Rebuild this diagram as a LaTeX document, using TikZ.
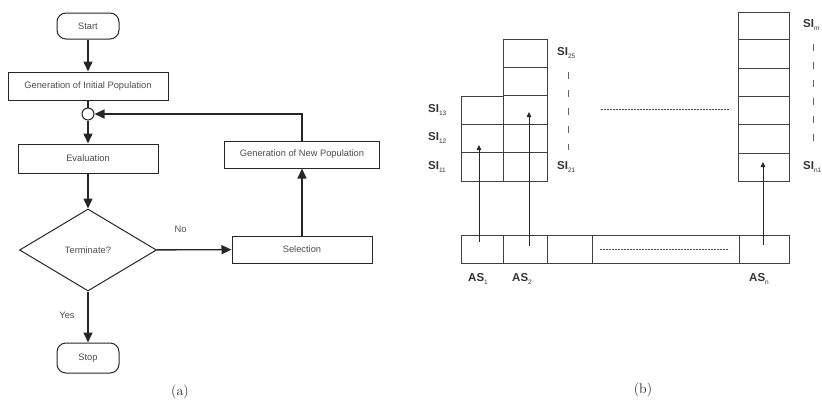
\documentclass[tikz,border=0pt]{standalone}
\usepackage{fontspec}
\setsansfont{Liberation Sans}
\usetikzlibrary{shapes.geometric,arrows.meta}
% label with a small lowered index, e.g. SI with 11
\newcommand\idxlabel[2]{{\bfseries #1}\raisebox{-0.45ex}{\fontsize{6.5}{7}\selectfont #2}}
\begin{document}
\begin{tikzpicture}[x=1pt,y=-1pt,
  flow/.style={draw=black!85, line width=1pt, inner sep=0pt,
    font=\sffamily\fontsize{9.3}{11}\selectfont, text=black!70},
  procbox/.style={flow, rectangle},
  termbox/.style={flow, rectangle, rounded corners=9pt},
  flowtxt/.style={font=\sffamily\fontsize{9.3}{11}\selectfont, text=black!70},
  link/.style={line width=1.4pt, draw=black!85, -{Triangle[length=10pt,width=9pt]}},
  plain/.style={line width=1.4pt, draw=black!85},
  cell/.style={draw=black!75, line width=0.8pt},
  ptr/.style={line width=0.8pt, draw=black!85, -{Triangle[length=5pt,width=4.5pt]}},
  dots/.style={line width=1pt, draw=black!70, dash pattern=on 2pt off 1pt},
  vdash/.style={line width=0.8pt, draw=black!60, dash pattern=on 7pt off 11pt},
  silbl/.style={font=\sffamily\fontsize{11.5}{12}\selectfont, text=black!80, inner sep=0pt, anchor=west},
  caption/.style={font=\fontsize{14}{15}\selectfont, text=black!85}
]
\useasboundingbox (0,0) rectangle (822,405);

% ---------- (a) flow chart ----------
\node[termbox, minimum width=62, minimum height=26] (start) at (88,26) {Start};
\node[procbox, minimum width=160, minimum height=28] (init) at (88,86) {Generation of Initial Population};
\node[flow, circle, minimum size=12, fill=white] (join) at (88,114) {};
\node[procbox, minimum width=140, minimum height=29] (eval) at (88,158.5) {Evaluation};
\node[flow, diamond, minimum width=137, minimum height=82] (stopq) at (88,250) {Terminate?};
\node[termbox, minimum width=62, minimum height=30] (stop) at (88,358) {Stop};
\node[procbox, minimum width=140, minimum height=27] (sel) at (302,249.5) {Selection};
\node[procbox, minimum width=155, minimum height=27] (newpop) at (302,154.5) {Generation of New Population};

\draw[link] (start) -- (init);
\draw[plain] (init) -- (join);
\draw[link] (join) -- (eval);
\draw[link] (eval) -- (stopq);
\draw[link] (stopq) -- node[flowtxt, pos=0.32, yshift=20pt] {No} (sel);
\draw[link] (stopq) -- node[flowtxt, pos=0.46, xshift=-21pt] {Yes} (stop);
\draw[link] (sel) -- (newpop);
\draw[link] (newpop.north) |- (join.east);

\node[caption] (capa) at (180,392) {(a)};

% ---------- (b) storage layout ----------
% column 1: three cells
\foreach \t in {96,124.3,152.7}
  \draw[cell] (461,\t) rectangle (503,\t+28.4);
% column 2: five cells
\foreach \t in {39,67.4,95.8,124.2,152.6}
  \draw[cell] (503,\t) rectangle (547,\t+28.4);
% column n: six cells
\foreach \t in {12,39.5,67.9,96.3,124.7,153.1}
  \draw[cell] (738,\t) rectangle (789,181);
% bottom array
\draw[cell] (461,235) rectangle (789,263);
\foreach \x in {503,547,592,739}
  \draw[cell] (\x,235) -- (\x,263);

% dotted continuation lines
\coordinate (gapA) at (601,109);
\coordinate (gapB) at (730,109);
\draw[dots] (gapA) -- (gapB);
\coordinate (arrA) at (600,249);
\coordinate (arrB) at (729,249);
\draw[dots] (arrA) -- (arrB);

% vertical dashes beside columns 2 and n
\coordinate (d2a) at (568,72);
\coordinate (d2b) at (568,150);
\draw[vdash] (d2a) -- (d2b);
\coordinate (dna) at (813,44);
\coordinate (dnb) at (813,150);
\draw[vdash] (dna) -- (dnb);

% pointers from the array slots to their columns
\coordinate (as1) at (479,242);
\coordinate (si12) at (479,145);
\coordinate (as2) at (529,246);
\coordinate (si23) at (529,112);
\coordinate (asn) at (763,245);
\coordinate (sin1) at (763,162);
\draw[ptr] (as1) -- (si12);
\draw[ptr] (as2) -- (si23);
\draw[ptr] (asn) -- (sin1);

% labels
\node[silbl] (l13) at (428,110) {\idxlabel{SI}{13}};
\node[silbl] (l12) at (428,138) {\idxlabel{SI}{12}};
\node[silbl] (l11) at (428,167) {\idxlabel{SI}{11}};
\node[silbl] (l25) at (557,53) {\idxlabel{SI}{25}};
\node[silbl] (l21) at (557,167) {\idxlabel{SI}{21}};
\node[silbl] (lm) at (803,25) {\idxlabel{SI}{m}};
\node[silbl] (ln1) at (803,167) {\idxlabel{SI}{n1}};
\node[silbl] (a1) at (468,279) {\idxlabel{AS}{1}};
\node[silbl] (a2) at (512,279) {\idxlabel{AS}{2}};
\node[silbl] (an) at (749,279) {\idxlabel{AS}{n}};

\node[caption] (capb) at (643,390) {(b)};
\end{tikzpicture}
\end{document}
